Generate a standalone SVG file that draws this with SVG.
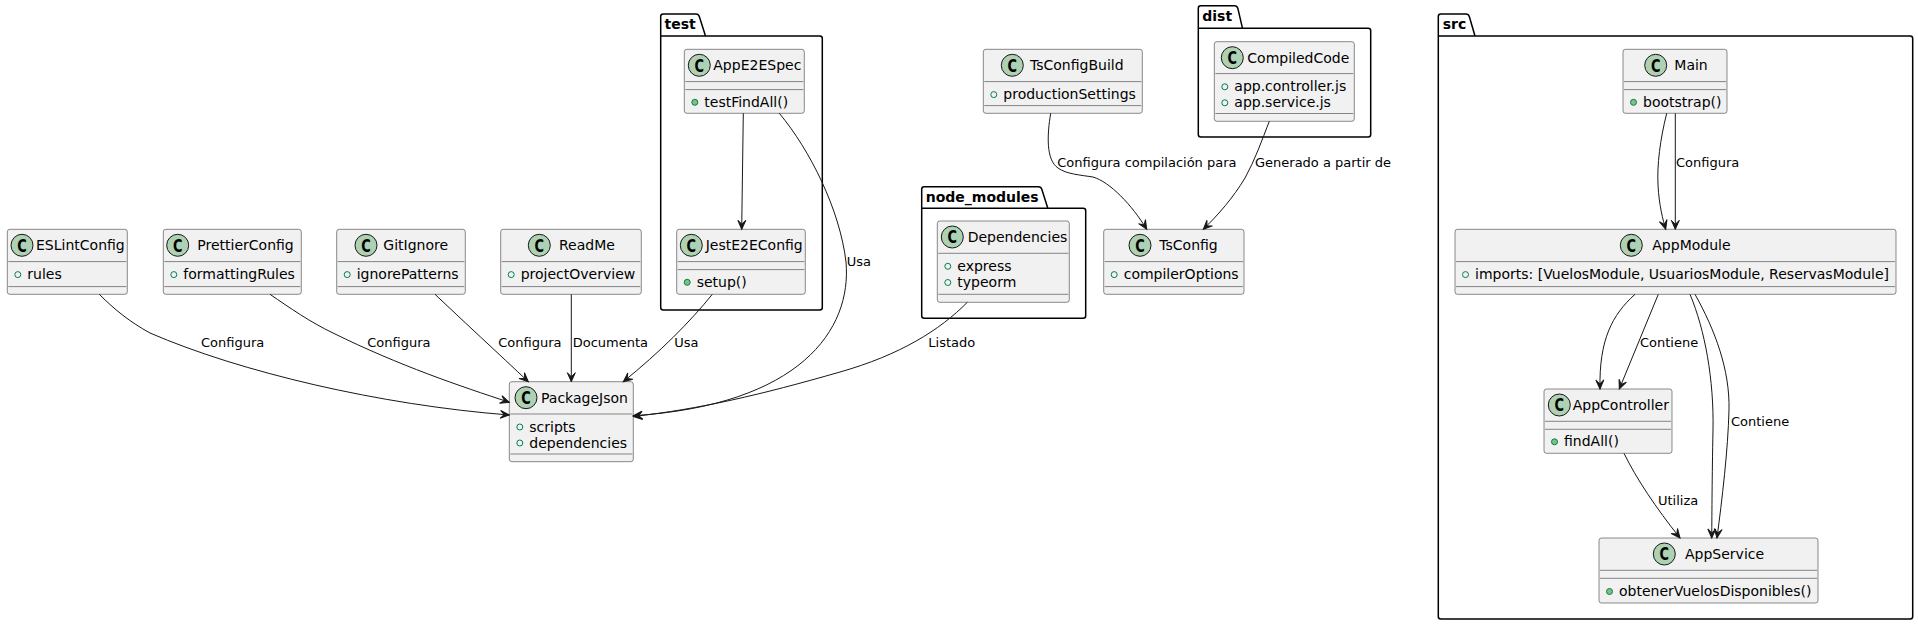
<svg xmlns="http://www.w3.org/2000/svg" width="1918" height="625" viewBox="0 0 1918 625">
<style>
.box{fill:#F1F1F1;stroke:#181818;stroke-width:0.5}
.sep{stroke:#181818;stroke-width:0.5}
.spot{fill:#ADD1B2;stroke:#181818;stroke-width:1}
.sc{font-family:"DejaVu Sans",sans-serif;font-weight:bold;font-size:17px;fill:#000;text-anchor:middle}
.nm{font-family:"DejaVu Sans",sans-serif;font-size:14px;fill:#000}
.fl{font-family:"DejaVu Sans",sans-serif;font-size:14px;fill:#000}
.vf{fill:none;stroke:#038048;stroke-width:1}
.vm{fill:#84BE84;stroke:#038048;stroke-width:1}
.pkg{fill:none;stroke:#000;stroke-width:1.5}
.pkt{font-family:"DejaVu Sans",sans-serif;font-size:14px;font-weight:bold;fill:#000}
.edge{fill:none;stroke:#181818;stroke-width:1;marker-end:url(#ah)}
.lbl{font-family:"DejaVu Sans",sans-serif;font-size:13px;fill:#000}
</style>
<defs>
<marker id="ah" viewBox="-11 -6 13 12" refX="0" refY="0" markerWidth="13" markerHeight="12" orient="auto" markerUnits="userSpaceOnUse" overflow="visible">
<path d="M0,0 L-9,-4 L-5,0 L-9,4 Z" fill="#181818" stroke="#181818" stroke-width="1"/>
</marker>
</defs>
<rect width="1918" height="625" fill="#FFFFFF"/>

<!-- packages -->
<g id="pkg-test">
<path class="pkg" d="M663.2,14 L696,14 Q698.5,14 699.3,16.5 L705.5,36 M660.7,36 L819.8,36 Q822.3,36 822.3,38.5 L822.3,307.5 Q822.3,310 819.8,310 L663.2,310 Q660.7,310 660.7,307.5 L660.7,16.5 Q660.7,14 663.2,14"/>
<text class="pkt" x="664.5" y="29">test</text>
</g>
<g id="pkg-node_modules">
<path class="pkg" d="M924.2,186.7 L1038.5,186.7 Q1041,186.7 1041.8,189.2 L1047.8,208.3 M921.7,208.3 L1083.2,208.3 Q1085.7,208.3 1085.7,210.8 L1085.7,315.8 Q1085.7,318.3 1083.2,318.3 L924.2,318.3 Q921.7,318.3 921.7,315.8 L921.7,189.2 Q921.7,186.7 924.2,186.7"/>
<text class="pkt" x="925.7" y="201.7">node_modules</text>
</g>
<g id="pkg-dist">
<path class="pkg" d="M1200.8,5.7 L1234.5,5.7 Q1237,5.7 1237.8,8.2 L1242.5,28.3 M1198.3,28.3 L1368.2,28.3 Q1370.7,28.3 1370.7,30.8 L1370.7,134.5 Q1370.7,137 1368.2,137 L1200.8,137 Q1198.3,137 1198.3,134.5 L1198.3,8.2 Q1198.3,5.7 1200.8,5.7"/>
<text class="pkt" x="1202.3" y="20.7">dist</text>
</g>
<g id="pkg-src">
<path class="pkg" d="M1440.8,14 L1466,14 Q1468.5,14 1469.3,16.5 L1475,36 M1438.3,36 L1910.2,36 Q1912.7,36 1912.7,38.5 L1912.7,616.5 Q1912.7,619 1910.2,619 L1440.8,619 Q1438.3,619 1438.3,616.5 L1438.3,16.5 Q1438.3,14 1440.8,14"/>
<text class="pkt" x="1442.7" y="29">src</text>
</g>

<!-- classes -->
<g id="ESLintConfig">
<rect class="box" x="7.3" y="229.3" width="120" height="65" rx="2.5"/>
<circle class="spot" cx="22" cy="245.3" r="11"/><text class="sc" x="22" y="251.5" textLength="9.5" lengthAdjust="spacingAndGlyphs">C</text>
<text class="nm" x="36" y="250.1">ESLintConfig</text>
<line class="sep" x1="8.3" x2="126.3" y1="261.6" y2="261.6"/>
<circle class="vf" cx="17.8" cy="274.6" r="3"/><text class="fl" x="27.3" y="279.1">rules</text>
<line class="sep" x1="8.3" x2="126.3" y1="286.6" y2="286.6"/>
</g>
<g id="PrettierConfig">
<rect class="box" x="163.3" y="229.3" width="138" height="65" rx="2.5"/>
<circle class="spot" cx="177.7" cy="245.3" r="11"/><text class="sc" x="177.7" y="251.5" textLength="9.5" lengthAdjust="spacingAndGlyphs">C</text>
<text class="nm" x="197.3" y="250.1">PrettierConfig</text>
<line class="sep" x1="164.3" x2="300.3" y1="261.6" y2="261.6"/>
<circle class="vf" cx="173.8" cy="274.6" r="3"/><text class="fl" x="183.3" y="279.1">formattingRules</text>
<line class="sep" x1="164.3" x2="300.3" y1="286.6" y2="286.6"/>
</g>
<g id="GitIgnore">
<rect class="box" x="336.7" y="229.3" width="128.6" height="65" rx="2.5"/>
<circle class="spot" cx="366" cy="245.3" r="11"/><text class="sc" x="366" y="251.5" textLength="9.5" lengthAdjust="spacingAndGlyphs">C</text>
<text class="nm" x="383.3" y="250.1">GitIgnore</text>
<line class="sep" x1="337.7" x2="464.3" y1="261.6" y2="261.6"/>
<circle class="vf" cx="347.2" cy="274.6" r="3"/><text class="fl" x="356.7" y="279.1">ignorePatterns</text>
<line class="sep" x1="337.7" x2="464.3" y1="286.6" y2="286.6"/>
</g>
<g id="ReadMe">
<rect class="box" x="500.7" y="229.3" width="140.6" height="65" rx="2.5"/>
<circle class="spot" cx="539.3" cy="245.3" r="11"/><text class="sc" x="539.3" y="251.5" textLength="9.5" lengthAdjust="spacingAndGlyphs">C</text>
<text class="nm" x="559" y="250.1">ReadMe</text>
<line class="sep" x1="501.7" x2="640.3" y1="261.6" y2="261.6"/>
<circle class="vf" cx="511.2" cy="274.6" r="3"/><text class="fl" x="520.7" y="279.1">projectOverview</text>
<line class="sep" x1="501.7" x2="640.3" y1="286.6" y2="286.6"/>
</g>
<g id="PackageJson">
<rect class="box" x="509.3" y="381.7" width="124" height="80" rx="2.5"/>
<circle class="spot" cx="526" cy="397.7" r="11"/><text class="sc" x="526" y="403.9" textLength="9.5" lengthAdjust="spacingAndGlyphs">C</text>
<text class="nm" x="541" y="402.5">PackageJson</text>
<line class="sep" x1="510.3" x2="632.3" y1="414" y2="414"/>
<circle class="vf" cx="519.8" cy="427" r="3"/><text class="fl" x="529.3" y="431.5">scripts</text>
<circle class="vf" cx="519.8" cy="443" r="3"/><text class="fl" x="529.3" y="447.5">dependencies</text>
<line class="sep" x1="510.3" x2="632.3" y1="454" y2="454"/>
</g>
<g id="AppE2ESpec">
<rect class="box" x="684.3" y="49.3" width="120" height="64" rx="2.5"/>
<circle class="spot" cx="699.3" cy="65.3" r="11"/><text class="sc" x="699.3" y="71.5" textLength="9.5" lengthAdjust="spacingAndGlyphs">C</text>
<text class="nm" x="713.3" y="70.1">AppE2ESpec</text>
<line class="sep" x1="685.3" x2="803.3" y1="81.6" y2="81.6"/>
<line class="sep" x1="685.3" x2="803.3" y1="89.6" y2="89.6"/>
<circle class="vm" cx="694.8" cy="102.3" r="3"/><text class="fl" x="704.3" y="106.8">testFindAll()</text>
</g>
<g id="JestE2EConfig">
<rect class="box" x="676.7" y="229.3" width="128.6" height="65" rx="2.5"/>
<circle class="spot" cx="691.3" cy="245.3" r="11"/><text class="sc" x="691.3" y="251.5" textLength="9.5" lengthAdjust="spacingAndGlyphs">C</text>
<text class="nm" x="705.7" y="250.1">JestE2EConfig</text>
<line class="sep" x1="677.7" x2="804.3" y1="261.6" y2="261.6"/>
<line class="sep" x1="677.7" x2="804.3" y1="269.6" y2="269.6"/>
<circle class="vm" cx="687.2" cy="282.3" r="3"/><text class="fl" x="696.7" y="286.8">setup()</text>
</g>
<g id="Dependencies">
<rect class="box" x="937.3" y="221" width="132" height="81.3" rx="2.5"/>
<circle class="spot" cx="952.3" cy="237" r="11"/><text class="sc" x="952.3" y="243.2" textLength="9.5" lengthAdjust="spacingAndGlyphs">C</text>
<text class="nm" x="967.7" y="241.8">Dependencies</text>
<line class="sep" x1="938.3" x2="1068.3" y1="253.3" y2="253.3"/>
<circle class="vf" cx="947.8" cy="266.3" r="3"/><text class="fl" x="957.3" y="270.8">express</text>
<circle class="vf" cx="947.8" cy="282.5" r="3"/><text class="fl" x="957.3" y="287">typeorm</text>
<line class="sep" x1="938.3" x2="1068.3" y1="294.3" y2="294.3"/>
</g>
<g id="TsConfigBuild">
<rect class="box" x="983.3" y="49.3" width="159" height="64" rx="2.5"/>
<circle class="spot" cx="1012.3" cy="65.3" r="11"/><text class="sc" x="1012.3" y="71.5" textLength="9.5" lengthAdjust="spacingAndGlyphs">C</text>
<text class="nm" x="1030" y="70.1">TsConfigBuild</text>
<line class="sep" x1="984.3" x2="1141.3" y1="81.6" y2="81.6"/>
<circle class="vf" cx="993.8" cy="94.6" r="3"/><text class="fl" x="1003.3" y="99.1">productionSettings</text>
<line class="sep" x1="984.3" x2="1141.3" y1="105.6" y2="105.6"/>
</g>
<g id="CompiledCode">
<rect class="box" x="1214.3" y="41.7" width="140" height="79.6" rx="2.5"/>
<circle class="spot" cx="1232.3" cy="57.7" r="11"/><text class="sc" x="1232.3" y="63.9" textLength="9.5" lengthAdjust="spacingAndGlyphs">C</text>
<text class="nm" x="1247.3" y="62.5">CompiledCode</text>
<line class="sep" x1="1215.3" x2="1353.3" y1="73.6" y2="73.6"/>
<circle class="vf" cx="1224.8" cy="86.8" r="3"/><text class="fl" x="1234.3" y="91.3">app.controller.js</text>
<circle class="vf" cx="1224.8" cy="102.8" r="3"/><text class="fl" x="1234.3" y="107.3">app.service.js</text>
<line class="sep" x1="1215.3" x2="1353.3" y1="113.5" y2="113.5"/>
</g>
<g id="TsConfig">
<rect class="box" x="1103.7" y="229.3" width="140.3" height="65" rx="2.5"/>
<circle class="spot" cx="1140" cy="245.3" r="11"/><text class="sc" x="1140" y="251.5" textLength="9.5" lengthAdjust="spacingAndGlyphs">C</text>
<text class="nm" x="1159.3" y="250.1">TsConfig</text>
<line class="sep" x1="1104.7" x2="1243" y1="261.6" y2="261.6"/>
<circle class="vf" cx="1114.2" cy="274.6" r="3"/><text class="fl" x="1123.7" y="279.1">compilerOptions</text>
<line class="sep" x1="1104.7" x2="1243" y1="286.6" y2="286.6"/>
</g>
<g id="Main">
<rect class="box" x="1623" y="49.3" width="104" height="64" rx="2.5"/>
<circle class="spot" cx="1655.7" cy="65.3" r="11"/><text class="sc" x="1655.7" y="71.5" textLength="9.5" lengthAdjust="spacingAndGlyphs">C</text>
<text class="nm" x="1674.3" y="70.1">Main</text>
<line class="sep" x1="1624" x2="1726" y1="81.6" y2="81.6"/>
<line class="sep" x1="1624" x2="1726" y1="89.6" y2="89.6"/>
<circle class="vm" cx="1633.5" cy="102.3" r="3"/><text class="fl" x="1643" y="106.8">bootstrap()</text>
</g>
<g id="AppModule">
<rect class="box" x="1455" y="229.3" width="441" height="65" rx="2.5"/>
<circle class="spot" cx="1631.3" cy="245.3" r="11"/><text class="sc" x="1631.3" y="251.5" textLength="9.5" lengthAdjust="spacingAndGlyphs">C</text>
<text class="nm" x="1652.3" y="250.1">AppModule</text>
<line class="sep" x1="1456" x2="1895" y1="261.6" y2="261.6"/>
<circle class="vf" cx="1465.5" cy="274.6" r="3"/><text class="fl" x="1475" y="279.1">imports: [VuelosModule, UsuariosModule, ReservasModule]</text>
<line class="sep" x1="1456" x2="1895" y1="286.6" y2="286.6"/>
</g>
<g id="AppController">
<rect class="box" x="1544" y="389" width="128" height="64.3" rx="2.5"/>
<circle class="spot" cx="1559.3" cy="405" r="11"/><text class="sc" x="1559.3" y="411.2" textLength="9.5" lengthAdjust="spacingAndGlyphs">C</text>
<text class="nm" x="1572.7" y="409.8">AppController</text>
<line class="sep" x1="1545" x2="1671" y1="421.3" y2="421.3"/>
<line class="sep" x1="1545" x2="1671" y1="429.3" y2="429.3"/>
<circle class="vm" cx="1554.5" cy="441.8" r="3"/><text class="fl" x="1564" y="446.3">findAll()</text>
</g>
<g id="AppService">
<rect class="box" x="1599" y="538" width="219" height="65" rx="2.5"/>
<circle class="spot" cx="1664.3" cy="554" r="11"/><text class="sc" x="1664.3" y="560.2" textLength="9.5" lengthAdjust="spacingAndGlyphs">C</text>
<text class="nm" x="1685" y="558.8">AppService</text>
<line class="sep" x1="1600" x2="1817" y1="570.3" y2="570.3"/>
<line class="sep" x1="1600" x2="1817" y1="578.3" y2="578.3"/>
<circle class="vm" cx="1609.5" cy="591.5" r="3"/><text class="fl" x="1619" y="596">obtenerVuelosDisponibles()</text>
</g>

<!-- connectors -->
<g id="connectors">
<path class="edge" d="M99.3,294.3 C115,310 130,322 150,333 C240,372 380,405 509.3,415"/>
<path class="edge" d="M270,294.3 C290,308 310,322 333,333 C400,366 460,386 509.3,402.3"/>
<path class="edge" d="M435,294.3 C460,318 500,355 528.3,381.7"/>
<path class="edge" d="M571.3,294.3 L571.3,381.7"/>
<path class="edge" d="M712.3,294.3 C690,322 660,352 623.3,381.7"/>
<path class="edge" d="M779.3,113.3 C810,150 840,210 846,262 C852,330 800,405 633.3,415.7"/>
<path class="edge" d="M743.3,113.3 L741.7,229.3"/>
<path class="edge" d="M967.3,302.3 C940,330 900,355 840,372 C760,395 700,409 633.3,416.5"/>
<path class="edge" d="M1050.7,113.3 C1047,135 1046,160 1058,168 C1066,174 1080,175 1093,177 C1110,182 1132,205 1146.7,229.3"/>
<path class="edge" d="M1269.3,121.3 C1262,140 1255,160 1245,178 C1233,198 1218,215 1203.3,229.3"/>
<path class="edge" d="M1666.7,113.3 C1660,140 1657,165 1658,185 C1659,205 1663,220 1665.7,229.3"/>
<path class="edge" d="M1675.3,113.3 L1675.3,229.3"/>
<path class="edge" d="M1635,294.3 C1612,315 1599,340 1600,389"/>
<path class="edge" d="M1658.3,294.3 L1619.3,389"/>
<path class="edge" d="M1690,294.3 C1705,330 1714,380 1713,430 C1712,480 1712,510 1711.7,538"/>
<path class="edge" d="M1695,294.3 C1715,330 1730,370 1729,410 C1728,450 1722,500 1717,538"/>
<path class="edge" d="M1624,453.3 C1636,478 1656,508 1680,538"/>
<text class="lbl" x="201" y="346.8">Configura</text>
<text class="lbl" x="367.3" y="346.8">Configura</text>
<text class="lbl" x="498.3" y="346.8">Configura</text>
<text class="lbl" x="572.7" y="346.8">Documenta</text>
<text class="lbl" x="674.3" y="346.8">Usa</text>
<text class="lbl" x="846.7" y="266">Usa</text>
<text class="lbl" x="928.3" y="346.8">Listado</text>
<text class="lbl" x="1057.3" y="167">Configura compilación para</text>
<text class="lbl" x="1255" y="167">Generado a partir de</text>
<text class="lbl" x="1676" y="166.8">Configura</text>
<text class="lbl" x="1640" y="346.8">Contiene</text>
<text class="lbl" x="1731" y="425.8">Contiene</text>
<text class="lbl" x="1658" y="504.5">Utiliza</text>
</g>
</svg>
